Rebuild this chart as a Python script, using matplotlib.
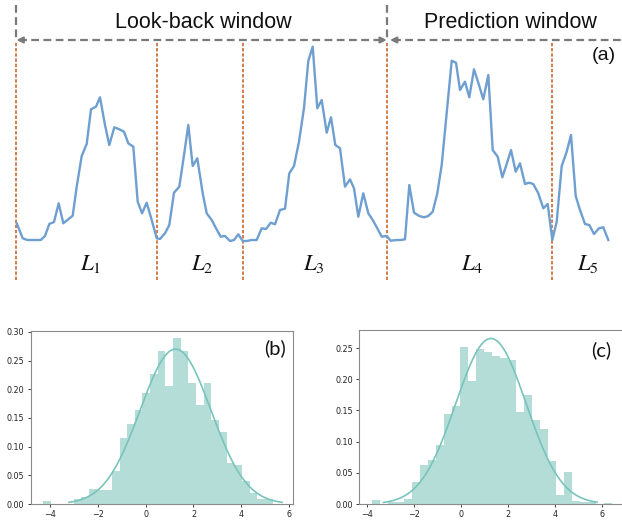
import numpy as np
import matplotlib
matplotlib.use("Agg")
import matplotlib.pyplot as plt

# ---------------- panel (a): time series ----------------
t = [0.7, 6.7, 11.3, 15.7, 20, 24.7, 29, 33.3, 38, 42.7, 47.3, 52, 56.7, 60.7, 65.7,
     70.7, 75, 80, 84, 89, 93.3, 98.3, 103.3, 108, 112.3, 117.3, 121.7, 126, 130.7,
     135.7, 140.7,
     144, 149, 153.3, 158, 163.3, 167.3, 172.3, 176.7, 181.3, 186.7, 190.7, 195.7, 200,
     204.7, 209, 214, 218, 222.3, 226.7, 230.7, 235.7, 240.7, 245.7, 250, 254.7, 259,
     264, 269, 273.3, 278, 283, 288, 292.3, 296.7,
     301.3, 305.7, 310.7, 315, 319.3, 324, 329, 334, 338, 342.3, 347.3, 352.3, 356.7,
     361.3, 365.7, 370.7, 374.7, 380.7, 385, 389, 393.3, 398, 403.3, 408, 412.3, 416.7,
     421.3, 425.7, 430.7, 435.7, 440,
     444, 449, 453.3, 458, 463, 467.3, 472.3, 476.7, 481.7, 486.3, 490.7, 495, 499.7,
     504, 509, 513, 517.3, 522.3, 527.3, 531.7, 536.3, 540.7, 545.7, 550.7, 555, 559.7,
     564, 569, 573.3, 578, 583, 587.3, 592.3]
v = [21.7, 6.7, 5, 5, 5, 5, 9, 21, 23, 41.7, 21.7, 25.5, 29.3, 58.3, 89, 101, 135.7,
     138.3, 147.7, 120, 100, 117.7, 115.7, 113.3, 101.7, 98.3, 43.3, 31.7, 42.3, 25, 6.7,
     6, 11.7, 20, 52.3, 58.3, 85, 120, 79, 86.7, 51.7, 31.7, 25, 16.7, 8.3, 9, 4, 5,
     10.7, 4, 4, 5, 5, 16.7, 16, 22.3, 20.7, 35, 36.3, 71.7, 79, 103.3, 137, 184, 198.3,
     136.7, 145, 112.3, 127.7, 100, 96.7, 58.3, 65.7, 56.7, 28.3, 51.7, 31.7, 25, 16.7,
     8.3, 9, 4.3, 5, 5, 5.7, 60, 32.3, 29, 27.7, 29, 33.3, 51.7, 80, 131.7, 184.3, 182.3,
     155, 163.3, 147.7, 175.7, 160, 145.7, 170, 95, 88.3, 67.7, 81, 95, 73.3, 81.7, 61,
     62.3, 61, 51.7, 36.7, 41, 5, 23.3, 79, 93.3, 110, 49, 35, 21, 20, 11, 16.7, 17.7, 5]
boundaries = [0, 140.7, 226.7, 371.3, 535.7]
seg_labels = ["$L_1$", "$L_2$", "$L_3$", "$L_4$", "$L_5$"]
seg_label_t = [75, 186, 298, 456, 572]
window_labels = ["Look-back window", "Prediction window"]
window_label_t = [187, 494]

# ---------------- panel (b) ----------------
b_start, b_width = -4.29, 0.32
b_heights = [0.005, 0, 0, 0, 0.009, 0.012, 0.027, 0.0245, 0.0245, 0.057, 0.115, 0.140,
             0.163, 0.193, 0.226, 0.267, 0.205, 0.289, 0.266, 0.211, 0.172, 0.211, 0.147,
             0.125, 0.072, 0.068, 0.040, 0.020, 0.008, 0.008]
b_mu, b_sigma = 1.25, 1.478
b_fit_range = (-3.2, 5.7)

# ---------------- panel (c) ----------------
c_start, c_width = -3.80, 0.3415
c_heights = [0.0064, 0, 0.003, 0.004, 0.008, 0.036, 0.062, 0.070, 0.094, 0.145, 0.157,
             0.252, 0.198, 0.248, 0.243, 0.237, 0.234, 0.231, 0.147, 0.175, 0.135, 0.120,
             0.069, 0.014, 0.051, 0.005, 0.003, 0.003, 0, 0.002]
c_mu, c_sigma = 1.27, 1.503
c_fit_range = (-3.32, 5.8)

blue = "#6E9FD0"
orange = "#C55A1E"
gray = "#7A7A7A"
bar_c = "#B4DDD8"
line_c = "#78C4BB"

W, H = 622, 521
fig = plt.figure(figsize=(W / 100, H / 100), dpi=100)
plt.rcParams["mathtext.fontset"] = "stix"

# ---- top panel ----
ax = fig.add_axes([0, (H - 290) / H, 1, 290 / H])
ax.set_xlim(-16, 606)
ax.set_ylim(-45, 245)
ax.axis("off")

ax.plot(t, v, color=blue, lw=1.7, solid_joinstyle="round", zorder=3)
for b in boundaries:
    ax.plot([b, b], [-35, 203], color=orange, lw=1.1, ls=(0, (2.2, 1.2)),
            dash_capstyle="butt", zorder=2)

dash = (0, (3.5, 2))
for xv in (0, 371.3):
    ax.plot([xv, xv], [240, 206], color=gray, lw=1.6, ls=dash, dash_capstyle="butt",
            zorder=4)
ax.plot([3, 368], [205, 205], color=gray, lw=1.6, ls=dash, dash_capstyle="butt")
ax.plot([377, 612], [205, 205], color=gray, lw=1.6, ls=dash, dash_capstyle="butt")
ap = dict(arrowstyle="-|>", color=gray, lw=1.5, mutation_scale=9, shrinkA=0, shrinkB=0)
ax.annotate("", xy=(0.5, 205), xytext=(10, 205), arrowprops=ap)
ax.annotate("", xy=(370.8, 205), xytext=(361, 205), arrowprops=ap)
ax.annotate("", xy=(374, 205), xytext=(384, 205), arrowprops=ap)

for lab, tx in zip(window_labels, window_label_t):
    ax.text(tx, 222, lab, ha="center", va="center", fontsize=15.5,
            family="Liberation Sans", color="#111111")
ax.text(588, 190, "(a)", ha="center", va="center", fontsize=14,
        family="Liberation Sans", color="#111111")

for lab, tx in zip(seg_labels, seg_label_t):
    ax.text(tx, -18.5, lab, ha="center", va="center", fontsize=16.5, color="#111111")


def draw_hist(rect, start, width, heights, mu, sigma, fit_range, xlim, ylim, yticks, tag, tag_xy):
    a = fig.add_axes(rect)
    edges = start + width * np.arange(len(heights))
    a.bar(edges, heights, width=width, align="edge", color=bar_c, linewidth=0)
    xs = np.linspace(fit_range[0], fit_range[1], 300)
    pdf = np.exp(-0.5 * ((xs - mu) / sigma) ** 2) / (sigma * np.sqrt(2 * np.pi))
    a.plot(xs, pdf, color=line_c, lw=1.2)
    a.set_xlim(*xlim)
    a.set_ylim(*ylim)
    a.set_xticks([-4, -2, 0, 2, 4, 6])
    a.set_yticks(yticks)
    a.yaxis.set_major_formatter(matplotlib.ticker.FormatStrFormatter("%.2f"))
    a.tick_params(labelsize=5.8, length=2.5, width=0.6, pad=2, colors="#222222")
    for s in a.spines.values():
        s.set_color("#8A8A8A")
        s.set_linewidth(0.8)
    a.text(tag_xy[0], tag_xy[1], tag, transform=a.transAxes, ha="center", va="center",
           fontsize=14.5, family="Lato", color="#111111")
    return a


draw_hist([30.7 / W, 17 / H, 262.6 / W, 173.3 / H], b_start, b_width, b_heights,
          b_mu, b_sigma, b_fit_range, (-4.8, 6.17), (0, 0.302),
          [0, 0.05, 0.10, 0.15, 0.20, 0.25, 0.30], "(b)", (0.93, 0.90))
draw_hist([359.3 / W, 17 / H, 264 / W, 174 / H], c_start, c_width, c_heights,
          c_mu, c_sigma, c_fit_range, (-4.35, 6.92), (0, 0.279),
          [0, 0.05, 0.10, 0.15, 0.20, 0.25], "(c)", (0.915, 0.885))

fig.savefig("out.png", dpi=100)
